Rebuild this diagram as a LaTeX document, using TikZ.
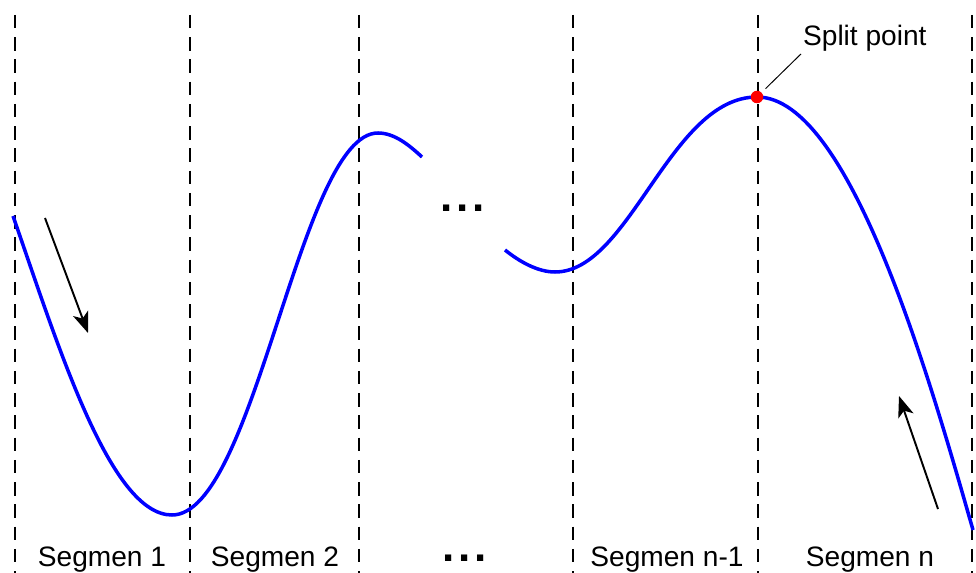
\documentclass[tikz,border=0pt]{standalone}
\usepackage{fontspec}
\setmainfont{Liberation Sans}
\usepackage{tikz}
\usetikzlibrary{positioning, arrows.meta}
\definecolor{curveblue}{HTML}{0000FF}
\definecolor{splitred}{HTML}{FF0000}
\definecolor{ink}{HTML}{000000}
\tikzset{
  divider/.style  = {draw=ink, line width=1.4pt, dash pattern=on 0.27cm off 0.175cm},
  curve/.style    = {draw=curveblue, line width=2pt},
  dirarrow/.style = {-{Stealth[length=4.2mm,width=3.2mm,inset=1.1mm]}, draw=ink, line width=1.1pt},
  seglabel/.style = {font=\fontsize{16}{19}\selectfont, text=ink, inner sep=1pt},
  gap/.style      = {font=\fontsize{25}{29}\selectfont\bfseries, text=ink, inner sep=0pt},
  splitdot/.style = {circle, fill=splitred, minimum size=0.25cm, inner sep=0pt},
  lead/.style     = {draw=ink, line width=0.55pt},
}

\begin{document}
\begin{tikzpicture}[x=0.02cm, y=-0.02cm]
  \useasboundingbox (0,0) rectangle (976,573);

  \foreach \x in {15,190,359,573,758,972}
     {\draw[divider] (\x,15) -- (\x,573);}

  \draw[curve] (13,216) .. controls (58,345) and (110,515) .. (172,515)
                        .. controls (255,515) and (300,133) .. (378,133)
                        .. controls (395,133) and (410,146) .. (422,157);
  \draw[curve] (505,250) .. controls (520,262) and (538,272) .. (555,272)
                         .. controls (630,272) and (670,97) .. (757,97)
                         .. controls (850,97) and (930,380) .. (973,530);

  \node[gap, anchor=base] (gaptop) at (463,212) {.\kern2.2pt.\kern2.2pt.};
  \node[gap, anchor=base] (gapbot) at (465,561) {.\kern2.2pt.\kern2.2pt.};

  \coordinate (downs) at (45,218);
  \coordinate (downe) at (88,333);
  \coordinate (ups) at (938,509);
  \coordinate (upe) at (899,396);
  \draw[dirarrow] (downs) -- (downe);
  \draw[dirarrow] (ups) -- (upe);

  \node[splitdot] (split) at (757,97) {};
  \node[seglabel, anchor=base west] (splitlbl) at (801,46) {Split point};
  \draw[lead, shorten <=3pt] (split) -- (splitlbl.south west);

  \node[seglabel, anchor=base] (seg1) at (102,566) {Segmen 1};
  \node[seglabel, anchor=base] (seg2) at (275,566) {Segmen 2};
  \node[seglabel, anchor=base] (segm) at (667,566) {Segmen n-1};
  \node[seglabel, anchor=base] (segn) at (870,566) {Segmen n};

\end{tikzpicture}
\end{document}
